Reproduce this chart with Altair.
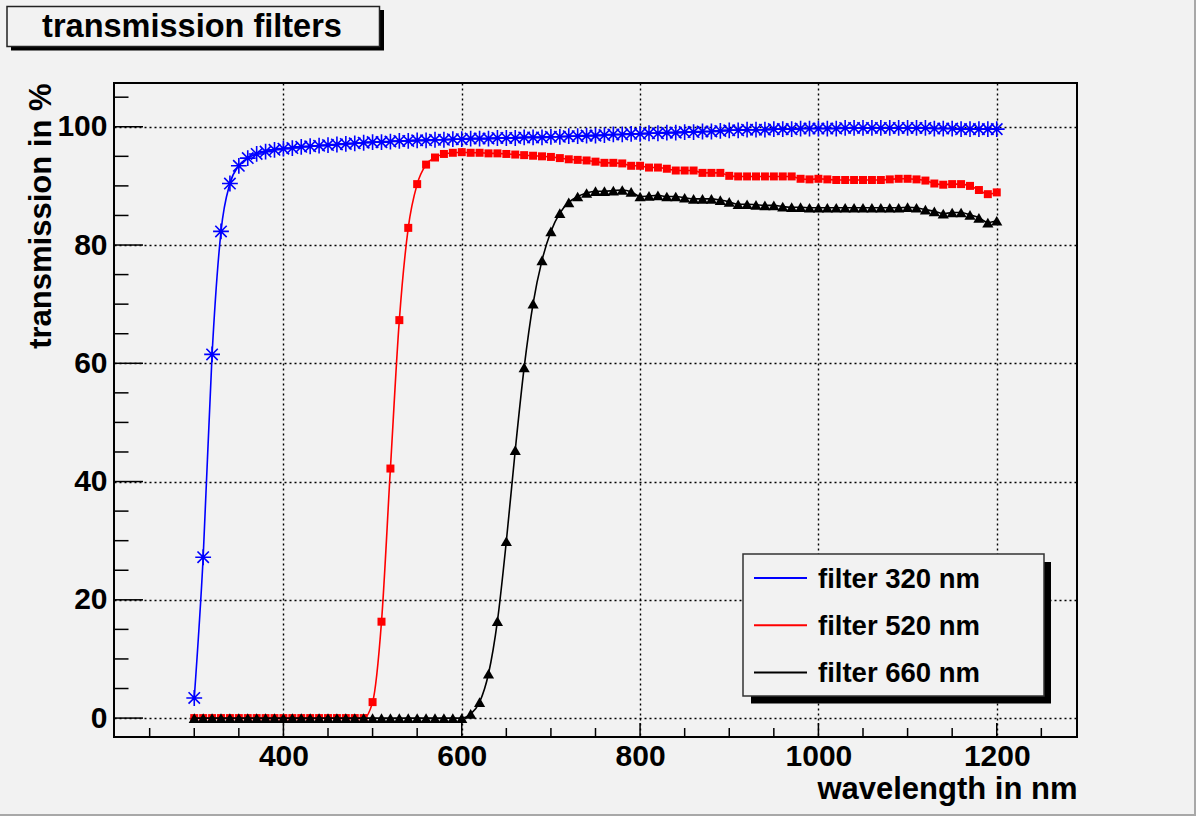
import altair as alt
import pandas as pd

# Wavelength grid (nm) and measured transmission (%) of the three filters
wavelength = [
    300, 310, 320, 330, 340, 350, 360, 370, 380, 390,
    400, 410, 420, 430, 440, 450, 460, 470, 480, 490,
    500, 510, 520, 530, 540, 550, 560, 570, 580, 590,
    600, 610, 620, 630, 640, 650, 660, 670, 680, 690,
    700, 710, 720, 730, 740, 750, 760, 770, 780, 790,
    800, 810, 820, 830, 840, 850, 860, 870, 880, 890,
    900, 910, 920, 930, 940, 950, 960, 970, 980, 990,
    1000, 1010, 1020, 1030, 1040, 1050, 1060, 1070, 1080, 1090,
    1100, 1110, 1120, 1130, 1140, 1150, 1160, 1170, 1180, 1190,
    1200,
]
t320 = [
    3.4, 27.2, 61.5, 82.3, 90.4, 93.4, 94.7, 95.4, 95.8, 96.1,
    96.3, 96.4, 96.6, 96.7, 96.8, 96.9, 97.0, 97.1, 97.2, 97.3,
    97.4, 97.4, 97.5, 97.6, 97.6, 97.7, 97.7, 97.8, 97.8, 97.9,
    97.9, 98.0, 98.0, 98.0, 98.1, 98.1, 98.1, 98.2, 98.2, 98.2,
    98.3, 98.3, 98.4, 98.4, 98.5, 98.5, 98.6, 98.7, 98.7, 98.8,
    98.8, 98.9, 98.9, 99.0, 99.0, 99.1, 99.1, 99.2, 99.2, 99.3,
    99.4, 99.4, 99.5, 99.5, 99.5, 99.6, 99.6, 99.6, 99.7, 99.7,
    99.7, 99.7, 99.7, 99.8, 99.8, 99.8, 99.8, 99.8, 99.8, 99.8,
    99.8, 99.8, 99.8, 99.7, 99.7, 99.7, 99.6, 99.6, 99.6, 99.6,
    99.6,
]
t520 = [
    0.0, 0.0, 0.0, 0.0, 0.0, 0.0, 0.0, 0.0, 0.0, 0.0,
    0.0, 0.0, 0.0, 0.0, 0.0, 0.0, 0.0, 0.0, 0.0, 0.0,
    2.7, 16.3, 42.2, 67.3, 82.9, 90.3, 93.6, 94.8, 95.4, 95.6,
    95.7, 95.6, 95.6, 95.5, 95.5, 95.4, 95.3, 95.2, 95.1, 95.0,
    94.9, 94.7, 94.5, 94.4, 94.3, 94.1, 93.9, 93.9, 93.8, 93.4,
    93.4, 93.1, 93.1, 92.9, 92.6, 92.6, 92.6, 92.2, 92.2, 92.2,
    91.7, 91.6, 91.6, 91.6, 91.6, 91.6, 91.6, 91.6, 91.2, 91.1,
    91.2, 91.1, 91.0, 91.0, 91.0, 91.0, 91.0, 91.0, 91.1, 91.2,
    91.2, 91.1, 90.9, 90.4, 90.2, 90.3, 90.3, 90.0, 89.3, 88.6,
    88.9,
]
t660 = [
    0.0, 0.0, 0.0, 0.0, 0.0, 0.0, 0.0, 0.0, 0.0, 0.0,
    0.0, 0.0, 0.0, 0.0, 0.0, 0.0, 0.0, 0.0, 0.0, 0.0,
    0.0, 0.0, 0.0, 0.0, 0.0, 0.0, 0.0, 0.0, 0.0, 0.0,
    0.0, 0.7, 2.7, 7.5, 16.4, 29.9, 45.3, 59.3, 70.1, 77.4,
    82.3, 85.4, 87.2, 88.2, 88.8, 89.1, 89.1, 89.2, 89.3, 89.0,
    88.2, 88.3, 88.4, 88.2, 88.2, 88.0, 87.8, 87.8, 87.8, 87.6,
    87.3, 86.9, 86.9, 86.8, 86.7, 86.7, 86.5, 86.4, 86.4, 86.3,
    86.3, 86.3, 86.3, 86.3, 86.3, 86.3, 86.3, 86.3, 86.3, 86.3,
    86.4, 86.3, 86.0, 85.7, 85.3, 85.5, 85.5, 85.1, 84.6, 83.8,
    84.1,
]

series_names = ["filter 320 nm", "filter 520 nm", "filter 660 nm"]
series_colors = ["#0000ff", "#ff0000", "#000000"]

# Axis ticks
x_major = [400, 600, 800, 1000, 1200]
x_minor = [250, 300, 350, 450, 500, 550, 650, 700, 750, 850, 900, 950,
           1050, 1100, 1150, 1250]
y_major = [0, 20, 40, 60, 80, 100]
y_minor = [5, 10, 15, 25, 30, 35, 45, 50, 55, 65, 70, 75, 85, 90, 95, 105]

FONT = "Liberation Sans"
BG = "#f2f2f2"

# Frame geometry in pixels
W, H = 963, 654
PAD_L, PAD_T = 114, 83
PAD_R, PAD_B = 1196 - PAD_L - W, 816 - PAD_T - H

xs = alt.Scale(domain=[210, 1290], nice=False, zero=False)
ys = alt.Scale(domain=[-3.2, 107.4], nice=False, zero=False)

x_axis = alt.Axis(
    values=x_major, format="d", grid=True, gridColor="black", gridOpacity=1,
    gridWidth=1.4, gridDash=[2, 3], ticks=False, domain=False,
    labelFont=FONT, labelFontWeight="bold", labelFontSize=30, labelColor="black",
    labelPadding=4, labelFlush=False, labelOverlap=False,
    title="wavelength in nm", titleFont=FONT, titleFontWeight="bold",
    titleFontSize=31, titleColor="black", titleAlign="right",
    titleBaseline="alphabetic", titleX=W, titleY=61,
)
y_axis = alt.Axis(
    values=y_major, format="d", grid=True, gridColor="black", gridOpacity=1,
    gridWidth=1.4, gridDash=[2, 3], ticks=False, domain=False,
    labelFont=FONT, labelFontWeight="bold", labelFontSize=30, labelColor="black",
    labelPadding=7, labelFlush=False, labelOverlap=False,
    title="transmission in %", titleFont=FONT, titleFontWeight="bold",
    titleFontSize=31, titleColor="black", titleAngle=270, titleAlign="right",
    titleBaseline="alphabetic", titleX=50 - PAD_L, titleY=0,
)

rows = []
for name, vals in zip(series_names, [t320, t520, t660]):
    for w, t in zip(wavelength, vals):
        rows.append({"filter": name, "wavelength": w, "transmission": t})
curves = pd.DataFrame(rows)

X = alt.X("wavelength:Q", scale=xs, axis=x_axis)
Y = alt.Y("transmission:Q", scale=ys, axis=y_axis)

# custom asterisk marker (+ and x)
STAR = "M-1,0L1,0M0,-1L0,1M-0.72,-0.72L0.72,0.72M-0.72,0.72L0.72,-0.72"
marker_defs = [
    dict(shape=STAR, filled=False, size=250, strokeWidth=1.6),
    dict(shape="square", filled=True, size=64, strokeWidth=0),
    dict(shape="triangle-up", filled=True, size=125, strokeWidth=0),
]

layers = []
for name, color, mdef in zip(series_names, series_colors, marker_defs):
    sub = alt.Chart(curves).transform_filter(alt.datum.filter == name)
    layers.append(sub.mark_line(interpolate="monotone", color=color,
                                strokeWidth=1.6).encode(x=X, y=Y))
    layers.append(sub.mark_point(color=color, opacity=1, **mdef)
                  .encode(x=X, y=Y))

# inward tick marks
def y_ticks(vals, length):
    return alt.Chart(pd.DataFrame({"transmission": vals})).mark_rule(
        color="black", strokeWidth=1.5
    ).encode(x=alt.value(0), x2=alt.value(length), y=Y)

def x_ticks(vals, length):
    return alt.Chart(pd.DataFrame({"wavelength": vals})).mark_rule(
        color="black", strokeWidth=1.5
    ).encode(y=alt.value(H), y2=alt.value(H - length), x=X)

layers += [y_ticks(y_major, 29), y_ticks(y_minor, 14.5),
           x_ticks(x_major, 14), x_ticks(x_minor, 9)]

one = pd.DataFrame({"a": [0]})

def box(x0, y0, x1, y1, **kw):
    return alt.Chart(one).mark_rect(**kw).encode(
        x=alt.value(x0 - PAD_L), x2=alt.value(x1 - PAD_L),
        y=alt.value(y0 - PAD_T), y2=alt.value(y1 - PAD_T))

# title box with drop shadow
layers += [
    box(11, 10, 384, 50.5, color="black"),
    box(7, 6.5, 379.5, 46.5, fill=BG, stroke="#222222", strokeWidth=1.5),
    alt.Chart(one).mark_text(
        text="transmission filters", font=FONT, fontWeight="bold",
        fontSize=32.5, color="black", align="center", baseline="alphabetic"
    ).encode(x=alt.value(192 - PAD_L), y=alt.value(37 - PAD_T)),
]

# legend box with drop shadow
layers += [
    box(751, 562, 1051, 703.5, color="black"),
    box(743, 554, 1044, 696, fill=BG, stroke="#333333", strokeWidth=1.5),
]
for i, (name, color) in enumerate(zip(series_names, series_colors)):
    ly = 578 + 47.3 * i
    layers.append(
        alt.Chart(one).mark_rule(color=color, strokeWidth=2).encode(
            x=alt.value(754 - PAD_L), x2=alt.value(807 - PAD_L),
            y=alt.value(ly - PAD_T))
    )
    layers.append(
        alt.Chart(one).mark_text(
            text=name, font=FONT, fontWeight="bold", fontSize=27.5,
            color="black", align="left", baseline="alphabetic"
        ).encode(x=alt.value(818 - PAD_L), y=alt.value(ly + 9.5 - PAD_T))
    )

# canvas border (bottom / right)
layers += [
    alt.Chart(one).mark_rule(color="#a8a8a8", strokeWidth=2).encode(
        x=alt.value(-PAD_L), x2=alt.value(1196 - PAD_L),
        y=alt.value(815 - PAD_T)),
    alt.Chart(one).mark_rule(color="#a8a8a8", strokeWidth=2).encode(
        x=alt.value(1195 - PAD_L), y=alt.value(-PAD_T),
        y2=alt.value(816 - PAD_T)),
]

chart = alt.layer(*layers).properties(
    width=W, height=H,
    padding={"left": PAD_L, "top": PAD_T, "right": PAD_R, "bottom": PAD_B},
    autosize="none",
    background=BG,
).configure_view(stroke="black", strokeWidth=2)

chart.save("out.html", embed_options={"renderer": "svg", "actions": False})
